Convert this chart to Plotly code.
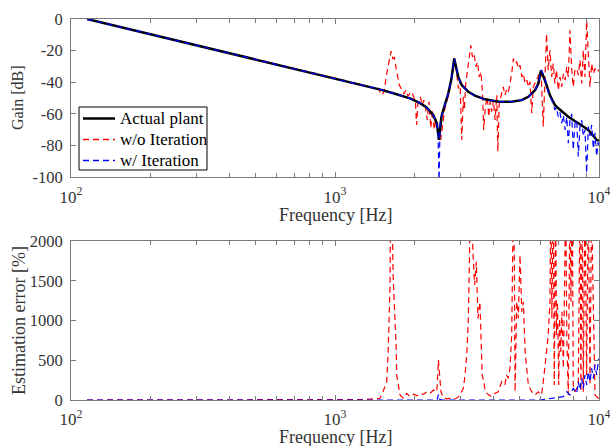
import plotly.graph_objects as go

# ---------------- data ----------------
freq_plant = [115, 1000, 1245, 1500, 1663, 1800, 1923, 2100, 2223, 2355, 2430, 2477, 2530, 2573,
              2687, 2760, 2830, 2880, 2931, 3020, 3199, 3389, 3697, 4155, 4670, 5094, 5397, 5723,
              5891, 6030, 6237, 6513, 6805, 7010, 7650, 8350, 9108, 9795, 10000]
gain_plant = [0, -37.6, -41.4, -44.8, -47, -48.6, -50.2, -53.2, -55.9, -60.7, -66, -76.4, -62, -57.5,
              -47, -38, -25, -31, -36.6, -41.8, -46, -48.5, -50.8, -52.3, -52.3, -51.3, -49.2, -45,
              -40.8, -32.5, -38.7, -48.1, -54.4, -56.5, -61.8, -65.9, -70.1, -76.4, -77]

freq_woit = [115, 1000, 1100, 1150, 1200, 1244, 1319, 1377, 1417, 1458, 1503, 1533, 1570, 1602, 1631,
             1655, 1678, 1713, 1753, 1789, 1825, 1857, 1890, 1924, 1952, 1985, 2017, 2037, 2063, 2105,
             2140, 2170, 2200, 2235, 2270, 2305, 2340, 2375, 2410, 2450, 2480, 2515, 2555, 2600, 2660,
             2710, 2760, 2830, 2891, 2933, 2975, 3020, 3063, 3090, 3128, 3184, 3221, 3270, 3316, 3366,
             3417, 3466, 3518, 3573, 3625, 3657, 3713, 3770, 3825, 3865, 3922, 3980, 4040, 4100, 4137,
             4190, 4280, 4340, 4400, 4465, 4530, 4601, 4670, 4740, 4810, 4880, 4950, 5020, 5100, 5170,
             5250, 5330, 5400, 5478, 5560, 5640, 5720, 5890, 6030, 6150, 6240, 6330, 6420, 6521, 6620,
             6710, 6805, 6900, 7010, 7116, 7220, 7330, 7440, 7550, 7650, 7764, 7880, 7990, 8110, 8230,
             8350, 8472, 8600, 8720, 8850, 8980, 9110, 9244, 9380, 9520, 9660, 9800, 9920, 10000]
gain_woit = [0, -37.6, -39.0, -40.6, -40.0, -41.4, -42.5, -43.3, -45, -43.9, -48.1, -46, -34.5, -26.1, -20.3,
             -25, -24.4, -33.5, -41.8, -44.6, -47.5, -45, -48.7, -47, -46, -49.2, -52.3, -67, -52.3, -49.2,
             -54.4, -51.3, -55.5, -63.8, -52.3, -69, -57.5, -70.1, -62.8, -70.1, -74.3, -76.4, -65.9, -57.5, -51.3,
             -46, -38, -25, -34.5, -43.9, -38.7, -76.4, -49.2, -57.5, -40.8, -32.4, -26.1, -16.7, -24, -21.9,
             -30.3, -27.2, -36.6, -33.5, -49.2, -70.1, -55.5, -49.2, -61.8, -52.3, -58.6, -51.3, -63.8, -48.1, -83.8,
             -53.3, -47, -42.9, -48.1, -45, -47, -40.8, -34.5, -25, -28.2, -27.2, -31.3, -29.2, -36.6, -34.5,
             -40.8, -38.7, -42.9, -39.7, -59.6, -42.9, -40.8, -36.6, -32.4, -68, -36.6, -9.3, -32.4, -19.8, -36.6,
             -28.2, -40.8, -32.4, -45, -36.6, -42.9, -34.5, -38.7, -30.3, -36.6, -7.2, -31.3, -42.9, -32.4, -31.3,
             -35.5, -26.1, -40.8, -19.8, -36.6, -1, -21.9, -42.9, -28.2, -34.5, -31.3, -33.5, -32.4, -33]

freq_wit = [115, 1000, 1245, 1500, 1663, 1800, 1923, 2100, 2223, 2355, 2430, 2455, 2478, 2500, 2530, 2573,
            2687, 2760, 2830, 2880, 2931, 3020, 3199, 3389, 3697, 4155, 4670, 5094, 5397, 5723, 5891,
            6030, 6060, 6240, 6420, 6620, 6710, 6805, 6900, 7010, 7116, 7220, 7330, 7440, 7550, 7650,
            7764, 7880, 7990, 8110, 8230, 8350, 8472, 8600, 8720, 8850, 8980, 9110, 9244, 9380, 9520,
            9660, 9800, 9920, 10000]
gain_wit = [0, -37.6, -41.4, -44.8, -47, -48.6, -50.2, -53.2, -55.9, -60.7, -66, -70, -105, -66, -62, -57.5,
            -47, -38, -25, -31, -36.6, -41.8, -46, -48.5, -50.8, -52.3, -52.3, -51.3, -49.2, -45, -40.8,
            -32.5, -32.4, -38, -46, -51, -54, -57.5, -56, -61.8, -59, -65.9, -61, -70.1, -62, -78.5,
            -64, -60, -82.7, -66, -64, -87, -68, -64, -74, -70, -97.4, -68, -74, -67, -82,
            -72, -87, -78, -80]

freq_err_woit = [115, 300, 600, 1000, 1200, 1300, 1400, 1480, 1520, 1570, 1590, 1616, 1625, 1645, 1660,
                 1678, 1690, 1705, 1713, 1740, 1763, 1815, 1870, 1924, 1985, 2045, 2099, 2164, 2230, 2290,
                 2360, 2430, 2465, 2490, 2520, 2570, 2640, 2727, 2810, 2890, 2975, 3063, 3110, 3160, 3200,
                 3225, 3260, 3300, 3330, 3380, 3430, 3480, 3540, 3580, 3610, 3660, 3713, 3825, 3922, 4040,
                 4155, 4280, 4400, 4465, 4530, 4601, 4670, 4740, 4780, 4810, 4880, 4950, 5020, 5100, 5170,
                 5250, 5330, 5400, 5560, 5720, 5890, 6060, 6150, 6240, 6330, 6420, 6521, 6570, 6630, 6710,
                 6770, 6850, 6900, 6960, 7040, 7090, 7160, 7240, 7330, 7390, 7480, 7550, 7650, 7764, 7830,
                 7920, 7990, 8110, 8230, 8350, 8472, 8540, 8640, 8720, 8850, 8980, 9110, 9244, 9380, 9460,
                 9660, 9950, 10000]
err_woit = [0, 2, 3, 5, 8, 6, 15, 20, 104, 230, 608, 1447, 2600, 2400, 1572,
            1237, 818, 650, 315, 147, 63, 21, 84, 42, 72, 54, 84, 72, 104, 84,
            126, 104, 503, 315, 104, 29, 13, 21, 8, 21, 63, 147, 315, 608, 1028,
            1657, 2600, 2300, 1866, 1447, 1740, 1028, 1237, 600, 315, 230, 104, 63, 42, 84,
            104, 230, 189, 315, 273, 399, 818, 2600, 1657, 104, 1237, 1028, 1824, 1111, 1237,
            608, 315, 189, 104, 63, 104, 63, 230, 399, 608, 818, 1237, 2600, 1028, 2600,
            189, 2600, 818, 1237, 189, 1028, 608, 1111, 399, 1237, 2600, 818, 63, 2600, 1237,
            2600, 189, 104, 147, 230, 2600, 104, 2600, 104, 2600, 315, 2600, 189, 2600, 1657,
            63, 21, 20]

freq_err_wit = [115, 2400, 2440, 2465, 2490, 2550, 5977, 6521, 6900, 7330, 7550, 7764, 7990, 8230, 8350,
                8472, 8600, 8720, 8850, 8980, 9110, 9244, 9380, 9520, 9660, 9800, 9950, 10000]
err_wit = [0, 0, 10, 72, 10, 0, 0, 21, 29, 42, 104, 63, 147, 84, 230,
           126, 273, 147, 315, 189, 356, 230, 399, 273, 440, 315, 503, 520]

series_names = ["Actual plant", "w/o Iteration", "w/ Iteration"]

freq_major_ticks = [100, 1000, 10000]
freq_major_text = ["10<sup>2</sup>", "10<sup>3</sup>", "10<sup>4</sup>"]
freq_minor_ticks = [200, 300, 400, 500, 600, 700, 800, 900,
                    2000, 3000, 4000, 5000, 6000, 7000, 8000, 9000]
gain_tickvals = [-100, -80, -60, -40, -20, 0]
gain_ticktext = ["-100", "-80", "-60", "-40", "-20", "0"]
err_tickvals = [0, 500, 1000, 1500, 2000]

# ---------------- figure ----------------
FONT = "Liberation Serif, Times New Roman, Times, serif"
TXT = "#333333"
AX = "#7a7a7a"
DASH = "6px,4px"
styles = [dict(color="#000000", width=2.5),
          dict(color="#ff0000", width=1.2, dash=DASH),
          dict(color="#0000ff", width=1.2, dash=DASH)]

fig = go.Figure()

# top panel (red underneath, black, blue on top)
fig.add_trace(go.Scatter(x=freq_woit, y=gain_woit, mode="lines", name=series_names[1],
                         line=dict(styles[1]), showlegend=False, xaxis="x", yaxis="y"))
fig.add_trace(go.Scatter(x=freq_plant, y=gain_plant, mode="lines", name=series_names[0],
                         line=dict(styles[0]), showlegend=False, xaxis="x", yaxis="y"))
fig.add_trace(go.Scatter(x=freq_wit, y=gain_wit, mode="lines", name=series_names[2],
                         line=dict(styles[2]), showlegend=False, xaxis="x", yaxis="y"))

# bottom panel
fig.add_trace(go.Scatter(x=freq_err_woit, y=err_woit, mode="lines", name=series_names[1],
                         line=dict(styles[1]), showlegend=False, xaxis="x2", yaxis="y2"))
fig.add_trace(go.Scatter(x=freq_err_wit, y=err_wit, mode="lines", name=series_names[2],
                         line=dict(styles[2]), showlegend=False, xaxis="x2", yaxis="y2"))

common_x = dict(type="log", range=[2, 4], tickmode="array", tickvals=freq_major_ticks,
                ticktext=freq_major_text, ticks="inside", ticklen=5, tickcolor=AX,
                minor=dict(tickmode="array", tickvals=freq_minor_ticks, ticks="inside",
                           ticklen=4, tickcolor=AX, showgrid=False),
                showline=True, linecolor=AX, linewidth=1, mirror="allticks",
                showgrid=False, zeroline=False, automargin=False,
                tickfont=dict(family=FONT, size=17, color=TXT),
                ticklabelstandoff=4, ticklabeloverflow="allow")

common_y = dict(ticks="inside", ticklen=5, tickcolor=AX, showline=True, linecolor=AX,
                linewidth=1, mirror="allticks", showgrid=False, zeroline=False,
                automargin=False, ticklabeloverflow="allow",
                tickfont=dict(family=FONT, size=16.5, color=TXT), ticklabelstandoff=4)

# legend box drawn in paper coordinates
shapes = [dict(type="rect", xref="paper", yref="paper", x0=0.0152, x1=0.2576, y0=0.6037, y1=0.769,
               fillcolor="white", line=dict(color="#000000", width=1), layer="above")]
annotations = []
row_y = [0.7388, 0.6837, 0.6286]
for name, st, yy in zip(series_names, styles, row_y):
    shapes.append(dict(type="line", xref="paper", yref="paper", x0=0.0227, x1=0.0833, y0=yy, y1=yy,
                       line=dict(color=st["color"], width=st["width"] + 0.2,
                                 dash=st.get("dash", "solid")), layer="above"))
    annotations.append(dict(text=name, xref="paper", yref="paper", x=0.0890, y=yy,
                            xanchor="left", yanchor="middle", showarrow=False,
                            font=dict(family=FONT, size=17, color="#000000")))

# axis titles
title_font = dict(family=FONT, size=18, color=TXT)
annotations += [
    dict(text="Frequency [Hz]", xref="paper", yref="paper", x=0.5, y=0.485,
         xanchor="center", yanchor="middle", showarrow=False, font=title_font),
    dict(text="Frequency [Hz]", xref="paper", yref="paper", x=0.5, y=-0.096,
         xanchor="center", yanchor="middle", showarrow=False, font=title_font),
    dict(text="Gain [dB]", xref="paper", yref="paper", x=-0.1004, y=0.7927, textangle=-90,
         xanchor="center", yanchor="middle", showarrow=False,
         font=dict(family=FONT, size=16, color=TXT)),
    dict(text="Estimation error [%]", xref="paper", yref="paper", x=-0.0985, y=0.21, textangle=-90,
         xanchor="center", yanchor="middle", showarrow=False,
         font=dict(family=FONT, size=18, color=TXT)),
]

fig.update_layout(
    width=610, height=446,
    margin=dict(l=71, r=11, t=19, b=46, autoexpand=False),
    paper_bgcolor="white", plot_bgcolor="white",
    font=dict(family=FONT, color=TXT),
    showlegend=False,
    shapes=shapes, annotations=annotations,
    xaxis=dict(domain=[0, 1], anchor="y", **common_x),
    yaxis=dict(domain=[0.585, 1], anchor="x", range=[-100, 0], tickmode="array",
               tickvals=gain_tickvals, ticktext=gain_ticktext, **common_y),
    xaxis2=dict(domain=[0, 1], anchor="y2", **common_x),
    yaxis2=dict(domain=[0, 0.417], anchor="x2", range=[0, 2000], tickmode="array",
                tickvals=err_tickvals, **common_y),
)

fig.write_html("out.html", config={"displayModeBar": False},
               post_script="document.body.style.margin='0';")
